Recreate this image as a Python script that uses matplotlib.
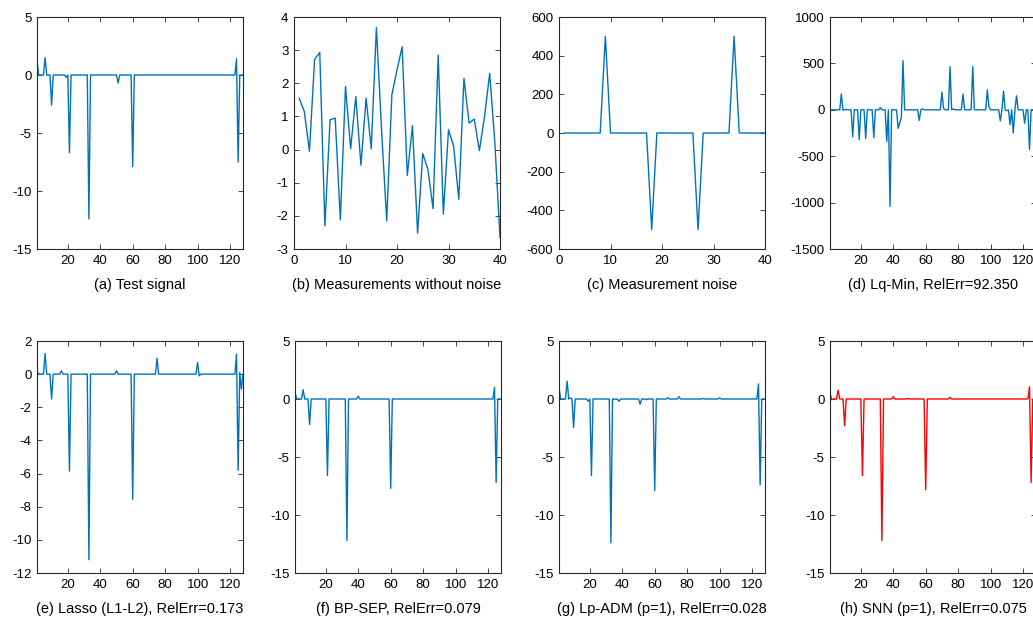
import numpy as np
import matplotlib
matplotlib.use("Agg")
from matplotlib import pyplot as plt

plt.rcParams['font.family'] = ['Liberation Sans', 'DejaVu Sans']
plt.rcParams['axes.unicode_minus'] = False

# ---- data ----
n_sig = 128
x_sig = np.arange(1, n_sig + 1)
x_meas = np.arange(1, 41)

test_idx = [1, 6, 10, 19, 21, 33, 51, 60, 124, 125]
test_val = [1.2, 1.5, -2.6, -0.2, -6.7, -12.4, -0.7, -7.9, 1.4, -7.5]

meas_clean = [1.55, 1.15, -0.05, 2.72, 2.93, -2.3, 0.9, 0.95, -2.12, 1.9,
              0.03, 1.6, -0.47, 1.55, 0.03, 3.68, 0.6, -2.15, 1.65, 2.4,
              3.1, -0.78, 0.72, -2.52, -0.12, -0.6, -1.78, 2.85, -1.95, 0.6,
              0.1, -1.5, 2.15, 0.8, 0.92, -0.03, 1.0, 2.3, 0.2, -2.65]

noise_idx = [9, 18, 27, 34]
noise_val = [500, -500, -500, 500]

lq_idx = [1, 8, 9, 11, 15, 19, 23, 28, 32, 36, 38, 43, 44, 45, 46, 56, 58,
          70, 71, 75, 77, 83, 89, 98, 99, 106, 108, 110, 112, 114, 116, 121, 124]
lq_val = [-20, 170, -5, 5, -290, -320, -310, -300, 25, -340, -1040, -200, -140,
          -80, 530, -115, 10, 190, 15, 465, 10, 170, 465, 215, 30, -120, 200,
          -10, -160, -250, 150, -145, -430]

lasso_idx = [1, 6, 10, 16, 21, 33, 50, 60, 75, 100, 101, 124, 125, 126, 127]
lasso_val = [0.2, 1.25, -1.5, 0.2, -5.85, -11.2, 0.2, -7.55, 0.95, 0.7, -0.1,
             1.2, -5.8, 0.1, -0.9]

bp_idx = [1, 6, 10, 21, 33, 40, 60, 124, 125]
bp_val = [0.6, 0.8, -2.2, -6.6, -12.2, 0.25, -7.7, 1.0, -7.2]

lp_idx = [1, 6, 8, 10, 19, 21, 33, 36, 38, 51, 55, 60, 68, 75, 90, 100, 124, 125]
lp_val = [1.0, 1.55, 0.1, -2.45, -0.2, -6.6, -12.4, -0.05, -0.2, -0.45, -0.05,
          -7.9, 0.1, 0.2, 0.05, 0.1, 1.3, -7.4]

snn_idx = [1, 2, 6, 10, 21, 33, 40, 49, 60, 75, 124, 125]
snn_val = [0.5, -0.05, 0.75, -2.3, -6.6, -12.2, 0.2, 0.05, -7.8, 0.15, 1.05, -7.2]

captions = ['(a) Test signal', '(b) Measurements without noise',
            '(c) Measurement noise', '(d) Lq-Min, RelErr=92.350',
            '(e) Lasso (L1-L2), RelErr=0.173', '(f) BP-SEP, RelErr=0.079',
            '(g) Lp-ADM (p=1), RelErr=0.028', '(h) SNN (p=1), RelErr=0.075']


def sparse(idx, val, n):
    out = np.zeros(n)
    out[np.array(idx) - 1] = val
    return out


blue = '#0072BD'
red = '#FF0000'

panels = [
    (x_sig, sparse(test_idx, test_val, n_sig), blue, (1, 128), (-15, 5), 5),
    (x_meas, np.array(meas_clean), blue, (0, 40), (-3, 4), 1),
    (x_meas, sparse(noise_idx, noise_val, 40), blue, (0, 40), (-600, 600), 200),
    (x_sig, sparse(lq_idx, lq_val, n_sig), blue, (1, 128), (-1500, 1000), 500),
    (x_sig, sparse(lasso_idx, lasso_val, n_sig), blue, (1, 128), (-12, 2), 2),
    (x_sig, sparse(bp_idx, bp_val, n_sig), blue, (1, 128), (-15, 5), 5),
    (x_sig, sparse(lp_idx, lp_val, n_sig), blue, (1, 128), (-15, 5), 5),
    (x_sig, sparse(snn_idx, snn_val, n_sig), red, (1, 128), (-15, 5), 5),
]

W, H = 1033, 617
lefts = [37, 294, 559, 830, 37, 295, 559, 830]
tops = [17] * 4 + [341] * 4
aw, ah = 206, 232

fig = plt.figure(figsize=(W / 100, H / 100), dpi=100)

for k, (xx, yy, col, xl, yl, ystep) in enumerate(panels):
    ax = fig.add_axes([lefts[k] / W, 1 - (tops[k] + ah) / H, aw / W, ah / H])
    ax.plot(xx, yy, color=col, lw=1.0)
    ax.set_xlim(xl)
    ax.set_ylim(yl)
    if xl[0] == 0:
        ax.set_xticks(np.arange(0, 41, 10))
    else:
        ax.set_xticks(np.arange(20, 121, 20))
    ax.set_yticks(np.arange(yl[0], yl[1] + ystep / 2, ystep))
    ax.tick_params(direction='in', top=True, right=True, length=3.5,
                   width=0.6, labelsize=9.5, colors='#262626',
                   labelcolor='black', pad=4)
    for sp in ax.spines.values():
        sp.set_linewidth(0.8)
        sp.set_color('#262626')
    ax.set_xlabel(captions[k], fontsize=10.5, labelpad=8)

fig.savefig('out.png', dpi=100)
